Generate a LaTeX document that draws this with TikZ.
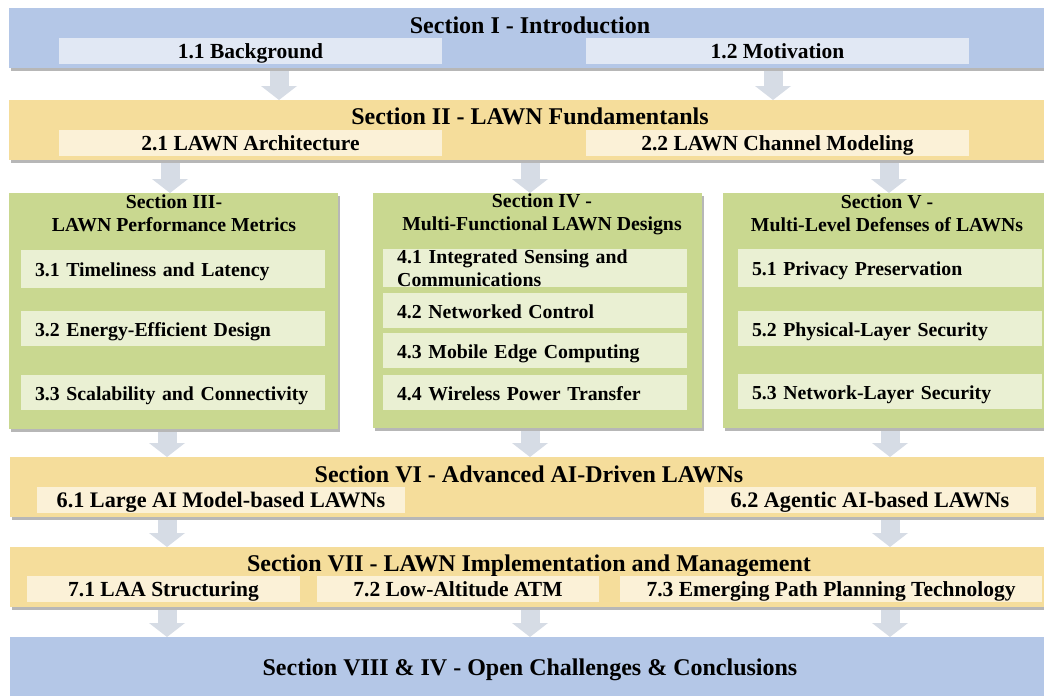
\documentclass[tikz,border=0pt]{standalone}
\usepackage{fontspec}
\setmainfont{Liberation Serif}
\usetikzlibrary{arrows.meta,shadows,positioning}
\definecolor{barblue}{HTML}{B4C7E7}
\definecolor{subblue}{HTML}{E1E8F4}
\definecolor{bargold}{HTML}{F5DD9B}
\definecolor{subgold}{HTML}{FBF1D7}
\definecolor{colgreen}{HTML}{C9D890}
\definecolor{subgreen}{HTML}{EAF0D3}
\definecolor{flowgray}{HTML}{D6DCE5}
\newcommand{\headsize}{\fontsize{24}{26}\selectfont}
\newcommand{\subsize}{\fontsize{21.5}{24}\selectfont}
\newcommand{\widesubsize}{\fontsize{22.2}{24}\selectfont}
\newcommand{\itemsize}{\fontsize{19.8}{23}\selectfont}
\newcommand{\barwidth}{1035pt}
\newcommand{\subwidth}{383pt}
\newcommand{\itemwidth}{276pt}
\newcommand{\subgap}{144pt}

\begin{document}
\begin{tikzpicture}[x=1pt,y=-1pt]

%% styles for bars, columns and their sub boxes
\tikzstyle{boxshadow}=[drop shadow={shadow xshift=1.5pt,shadow yshift=-2.5pt,opacity=.4,fill=black!70}]
\tikzstyle{bluebar}=[fill=barblue,draw=none,minimum height=60pt,inner sep=0pt,outer sep=0pt,boxshadow]
\tikzstyle{goldbar}=[fill=bargold,draw=none,minimum height=60pt,inner sep=0pt,outer sep=0pt,boxshadow]
\tikzstyle{greencol}=[fill=colgreen,draw=none,inner sep=0pt,outer sep=0pt,boxshadow]
\tikzstyle{bluesub}=[fill=subblue,minimum height=26pt,inner sep=0pt,outer sep=0pt,font=\bfseries\subsize,text height=15pt,text depth=0pt]
\tikzstyle{goldsub}=[fill=subgold,minimum height=26pt,inner sep=0pt,outer sep=0pt,font=\bfseries\subsize,text height=15pt,text depth=0pt]
\tikzstyle{greensub}=[fill=subgreen,inner ysep=0pt,inner xsep=14pt,outer sep=0pt,text width=\itemwidth,align=left,font=\bfseries\itemsize,text height=15pt,text depth=0pt]
\tikzstyle{headtext}=[font=\bfseries\headsize,inner sep=0pt]
\tikzstyle{colhead}=[font=\bfseries\itemsize,align=center,inner sep=0pt]
\tikzstyle{blockflow}=[draw=flowgray,line width=19pt,shorten <=3pt,-{Triangle[width=36pt,length=14pt,line width=0pt]}]

\useasboundingbox (0,0) rectangle (1044,696);

%% Section I
\node (S1) [bluebar, minimum width=\barwidth, anchor=north west] at (9,8) {};
\node (H1) [headtext, anchor=base] at (530,33) {Section I - Introduction};
\node (B11) [bluesub, minimum width=\subwidth, anchor=north west] at (59,38) {1.1 Background};
\node (B12) [bluesub, minimum width=\subwidth, right=\subgap of B11] {1.2 Motivation};

%% Section II
\node (S2) [goldbar, minimum width=\barwidth, anchor=north west] at (9,100) {};
\node (H2) [headtext, anchor=base] at (530,124) {Section II - LAWN Fundamentanls};
\node (B21) [goldsub, minimum width=\subwidth, anchor=north west] at (59,130) {2.1 LAWN Architecture};
\node (B22) [goldsub, minimum width=\subwidth, right=\subgap of B21] {2.2 LAWN Channel Modeling};

%% three columns
\node (S3) [greencol, minimum width=329pt, minimum height=236pt, anchor=north west] at (9,193) {};
\node (H3) [colhead] at (174,213) {Section III-\\LAWN Performance Metrics};
\node (B31) [greensub, minimum height=38pt, anchor=north west] at (21,250) {3.1 Timeliness and Latency};
\node (B32) [greensub, minimum height=35pt, anchor=north west] at (21,311) {3.2 Energy-Efficient Design};
\node (B33) [greensub, minimum height=35pt, anchor=north west] at (21,375) {\mbox{3.3 Scalability and Connectivity}};

\node (S4) [greencol, minimum width=329pt, minimum height=235pt, anchor=north west] at (373,193) {};
\node (H4) [colhead] at (542,214) {Section IV -\\Multi-Functional LAWN Designs};
\node (B41) [greensub, minimum height=38pt, anchor=north west] at (383,249) {};
\node (T41) [font=\bfseries\itemsize, align=left, text width=\itemwidth, inner sep=0pt, anchor=west] at ([xshift=14pt]B41.west) {4.1 Integrated Sensing and\\Communications};
\node (B42) [greensub, minimum height=35pt, anchor=north west] at (383,293) {4.2 Networked Control};
\node (B43) [greensub, minimum height=35pt, anchor=north west] at (383,333) {4.3 Mobile Edge Computing};
\node (B44) [greensub, minimum height=35pt, anchor=north west] at (383,375) {4.4 Wireless Power Transfer};

\node (S5) [greencol, minimum width=321pt, minimum height=235pt, anchor=north west] at (723,193) {};
\node (H5) [colhead] at (887,213) {Section V -\\Multi-Level Defenses of LAWNs};
\node (B51) [greensub, minimum height=38pt, anchor=north west] at (738,249) {5.1 Privacy Preservation};
\node (B52) [greensub, minimum height=35pt, anchor=north west] at (738,311) {5.2 Physical-Layer Security};
\node (B53) [greensub, minimum height=35pt, anchor=north west] at (738,374) {5.3 Network-Layer Security};

%% Section VI
\node (S6) [goldbar, minimum width=1034pt, anchor=north west] at (10,457) {};
\node (H6) [headtext, anchor=base] at (529,482) {Section VI - Advanced AI-Driven LAWNs};
\node (B61) [goldsub, font=\bfseries\widesubsize, minimum width=368pt, anchor=north west] at (37,487) {6.1 Large AI Model-based LAWNs};
\node (B62) [goldsub, font=\bfseries\widesubsize, minimum width=332pt, anchor=north west] at (704,487) {6.2 Agentic AI-based LAWNs};

%% Section VII
\node (S7) [goldbar, minimum width=1034pt, anchor=north west] at (10,547) {};
\node (H7) [headtext, anchor=base] at (529,571) {Section VII - LAWN Implementation and Management};
\node (B71) [goldsub, minimum width=273pt, anchor=north west] at (27,576) {7.1 LAA Structuring};
\node (B72) [goldsub, minimum width=282pt, anchor=north west] at (317,576) {7.2 Low-Altitude ATM};
\node (B73) [goldsub, minimum width=422pt, anchor=north west] at (620,576) {7.3 Emerging Path Planning Technology};

%% Section VIII
\node (S8) [bluebar, minimum width=1034pt, minimum height=70pt, anchor=north west] at (10,637) {};
\node (H8) [headtext, anchor=base] at (530,675) {Section VIII \& IV - Open Challenges \& Conclusions};

%% arrow columns
\coordinate (a11) at (279,0);
\coordinate (a12) at (773,0);
\coordinate (a21) at (170,0);
\coordinate (a22) at (530,0);
\coordinate (a23) at (889,0);
\coordinate (a31) at (167,0);
\coordinate (a33) at (890,0);

%% arrows between sections
\draw[blockflow] (S1.south -| a11) -- (S2.north -| a11);
\draw[blockflow] (S1.south -| a12) -- (S2.north -| a12);
\draw[blockflow] (S2.south -| a21) -- (S3.north -| a21);
\draw[blockflow] (S2.south -| a22) -- (S4.north -| a22);
\draw[blockflow] (S2.south -| a23) -- (S5.north -| a23);
\draw[blockflow] (S3.south -| a31) -- (S6.north -| a31);
\draw[blockflow] (S4.south -| a22) -- (S6.north -| a22);
\draw[blockflow] (S5.south -| a33) -- (S6.north -| a33);
\draw[blockflow] (S6.south -| a31) -- (S7.north -| a31);
\draw[blockflow] (S6.south -| a33) -- (S7.north -| a33);
\draw[blockflow] (S7.south -| a31) -- (S8.north -| a31);
\draw[blockflow] (S7.south -| a22) -- (S8.north -| a22);
\draw[blockflow] (S7.south -| a33) -- (S8.north -| a33);

\end{tikzpicture}
\end{document}
